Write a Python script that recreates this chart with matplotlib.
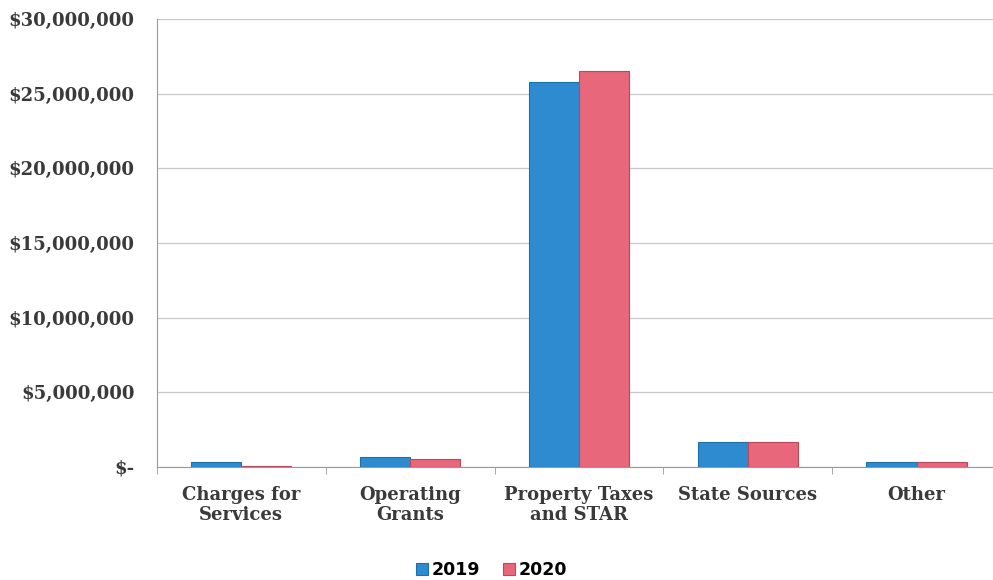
import matplotlib.pyplot as plt
import numpy as np
from matplotlib.ticker import FuncFormatter, FixedLocator

categories = ["Charges for\nServices", "Operating\nGrants", "Property Taxes\nand STAR",
              "State Sources", "Other"]
rev_2019 = [330000, 670000, 25800000, 1670000, 300000]
rev_2020 = [40000, 530000, 26500000, 1670000, 300000]

BLUE = "#2E8BD0"
PINK = "#E8677A"

plt.rcParams.update({
    "font.family": ["DejaVu Serif"],
    "font.weight": "bold",
})

fig = plt.figure(figsize=(9.93, 5.8), dpi=100)
# the chart runs a little past the right edge of the picture, as in the scan
ax = fig.add_axes([0.158, 0.195, 0.85, 0.772])

x = np.arange(len(categories))
w = 0.297
ax.bar(x - w / 2, rev_2019, w, color=BLUE, edgecolor="#1F6FA8", lw=0.8,
       label="2019", zorder=3)
ax.bar(x + w / 2, rev_2020, w, color=PINK, edgecolor="#B84A5C", lw=0.8,
       label="2020", zorder=3)

ax.set_xlim(-0.5, len(categories) - 0.5)
ax.set_ylim(0, 30000000)
ax.set_yticks(np.arange(0, 30000001, 5000000))


def money(v, _):
    return "$-" if v == 0 else f"${v:,.0f}"


ax.yaxis.set_major_formatter(FuncFormatter(money))
ax.yaxis.grid(True, color="#C8C8C8", lw=0.9, zorder=0)
ax.set_xticks(x)
ax.set_xticklabels(categories, fontsize=13, fontweight="bold", color="#3A3A3A",
                   linespacing=1.15)
ax.xaxis.set_minor_locator(FixedLocator(np.arange(-0.5, len(categories), 1.0)))
ax.tick_params(axis="x", which="major", length=0, pad=14)
ax.tick_params(axis="x", which="minor", length=5, color="#999999")
ax.tick_params(axis="y", length=0, labelsize=13, labelcolor="#3A3A3A", pad=16)

for s in ["top", "right"]:
    ax.spines[s].set_visible(False)
ax.spines["left"].set_color("#999999")
ax.spines["bottom"].set_color("#999999")

fig.legend(loc="lower center", bbox_to_anchor=(0.495, -0.025), ncol=2, frameon=False,
           prop={"family": "DejaVu Sans", "weight": "bold", "size": 12.5},
           handlelength=0.7, handleheight=0.7, handletextpad=0.2, columnspacing=1.3)

fig.savefig("out.png", dpi=100)
